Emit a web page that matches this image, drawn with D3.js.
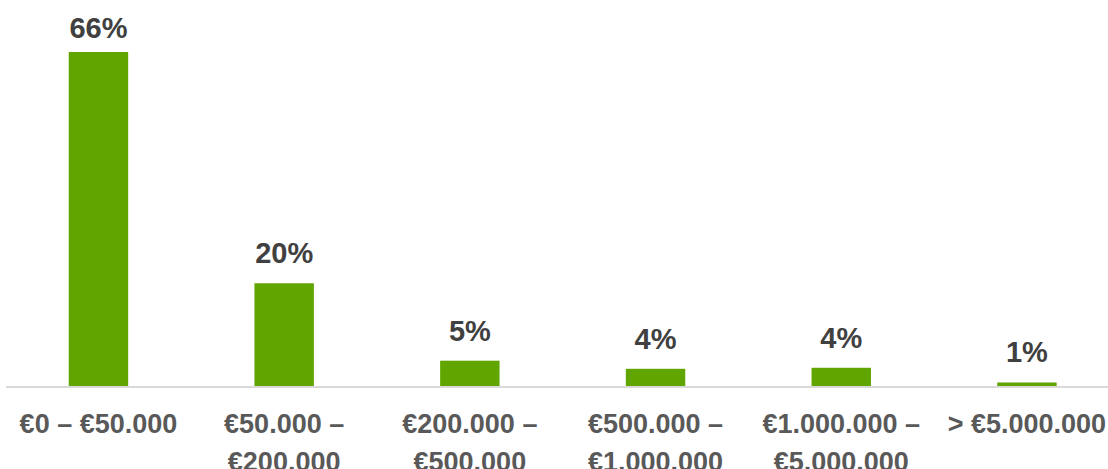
<!DOCTYPE html>
<html>
<head>
<meta charset="utf-8">
<script src="https://cdn.jsdelivr.net/npm/d3@7"></script>
<style>
  html, body { margin: 0; padding: 0; background: #fff; }
  svg { display: block; }
</style>
</head>
<body>
<script>
// Categories (funding ranges) and their shares in %
const categories = ['€0 – €50.000', '€50.000 – €200.000', '€200.000 – €500.000',
  '€500.000 – €1.000.000', '€1.000.000 – €5.000.000', '> €5.000.000'];
const values = [66, 20.3, 5.0, 3.4, 3.6, 0.7];
const valueLabels = ['66%', '20%', '5%', '4%', '4%', '1%'];

const svgWidth = 1108;
const svgHeight = 469;
const baseY = 386;

const svg = d3.select('body')
  .append('svg')
  .attr('width', svgWidth)
  .attr('height', svgHeight)
  .style('font-family', '"Liberation Sans", Arial, sans-serif');

const x = d3.scaleBand()
  .domain(categories)
  .range([5.6, 1119.8])
  .paddingInner(0.68)
  .paddingOuter(0.34);

const y = d3.scaleLinear().domain([0, 66]).range([baseY, 52]);

// bars
svg.append('g')
  .selectAll('rect')
  .data(values)
  .join('rect')
  .attr('x', (d, i) => x(categories[i]))
  .attr('y', d => y(d))
  .attr('width', x.bandwidth())
  .attr('height', d => baseY - y(d))
  .attr('fill', '#60a500');

// baseline
svg.append('line')
  .attr('x1', 6).attr('x2', svgWidth)
  .attr('y1', baseY + 1).attr('y2', baseY + 1)
  .attr('stroke', '#d9d9d9')
  .attr('stroke-width', 2);

// value labels
svg.append('g')
  .selectAll('text')
  .data(values)
  .join('text')
  .attr('x', (d, i) => x(categories[i]) + x.bandwidth() / 2)
  .attr('y', d => Math.max(y(d) - 20, 38))
  .attr('text-anchor', 'middle')
  .attr('font-size', 29)
  .attr('font-weight', 'bold')
  .attr('fill', '#404040')
  .text((d, i) => valueLabels[i]);

// category labels, wrapped after the dash when too wide
const cat = svg.append('g')
  .selectAll('text')
  .data(categories)
  .join('text')
  .attr('x', d => x(d) + x.bandwidth() / 2)
  .attr('y', 433)
  .attr('text-anchor', 'middle')
  .attr('font-size', 27)
  .attr('font-weight', 'bold')
  .attr('fill', '#595959')
  .text(d => d);

cat.each(function(d) {
  const t = d3.select(this);
  if (this.getComputedTextLength() > x.step() - 6 && d.includes('– ')) {
    const parts = d.split('– ');
    t.text(null);
    t.append('tspan').attr('x', t.attr('x')).text(parts[0] + '–');
    t.append('tspan').attr('x', t.attr('x')).attr('dy', 38).text(parts[1]);
  }
});
</script>
</body>
</html>
